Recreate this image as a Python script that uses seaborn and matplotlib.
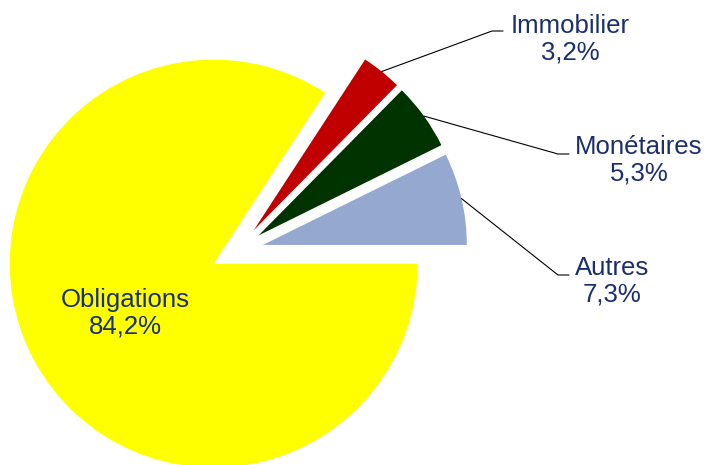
import numpy as np
import matplotlib
matplotlib.use("Agg")
import matplotlib.pyplot as plt
import seaborn as sns

# data, counter-clockwise from 3 o'clock
labels = ["Autres", "Monétaires", "Immobilier", "Obligations"]
values = [7.3, 5.3, 3.2, 84.2]
colors = ["#95A9D0", "#003300", "#C00000", "#FFFF00"]
explode = [0.13, 0.13, 0.13, 0.13]  # fraction of the radius

sns.set_theme(style="white")
plt.rcParams["font.family"] = ["Liberation Sans", "DejaVu Sans"]
text_color = "#1A2F6E"

fig = plt.figure(figsize=(7.05, 4.65), dpi=100)
ax = fig.add_axes([0, 0, 1, 1])
ax.axis("off")

radius = 204
# pie() offsets exploded wedges in data units, so scale by the radius
wedges, _ = ax.pie(values, colors=colors, explode=[e * radius for e in explode],
                   startangle=0, counterclock=True, center=(237, 214),
                   radius=radius, wedgeprops=dict(linewidth=0))
ax.set_xlim(0, 705)
ax.set_ylim(0, 465)
ax.set_aspect("equal")

# label layout: (elbow x, elbow y, text x, text y)
outside = {
    "Immobilier": (492, 434, 570, 426),
    "Monétaires": (558, 311, 639, 305),
    "Autres": (558, 190, 612, 184),
}

def fmt(v):
    return f"{v:.1f}".replace(".", ",") + "%"

for w, lab, val in zip(wedges, labels, values):
    if lab in outside:
        ex, ey, tx, ty = outside[lab]
        mid = np.deg2rad((w.theta1 + w.theta2) / 2)
        cx, cy = w.center
        sx, sy = cx + w.r * np.cos(mid), cy + w.r * np.sin(mid)
        ax.plot([sx, ex, ex + 11], [sy, ey, ey], color="black", lw=0.8)
        ax.text(tx, ty, f"{lab}\n{fmt(val)}", ha="center", va="center",
                fontsize=18.5, color=text_color, linespacing=1.12)
    else:
        ax.text(125, 152, f"{lab}\n{fmt(val)}", ha="center", va="center",
                fontsize=18.5, color=text_color, linespacing=1.12)

fig.savefig("out.png", dpi=100)
